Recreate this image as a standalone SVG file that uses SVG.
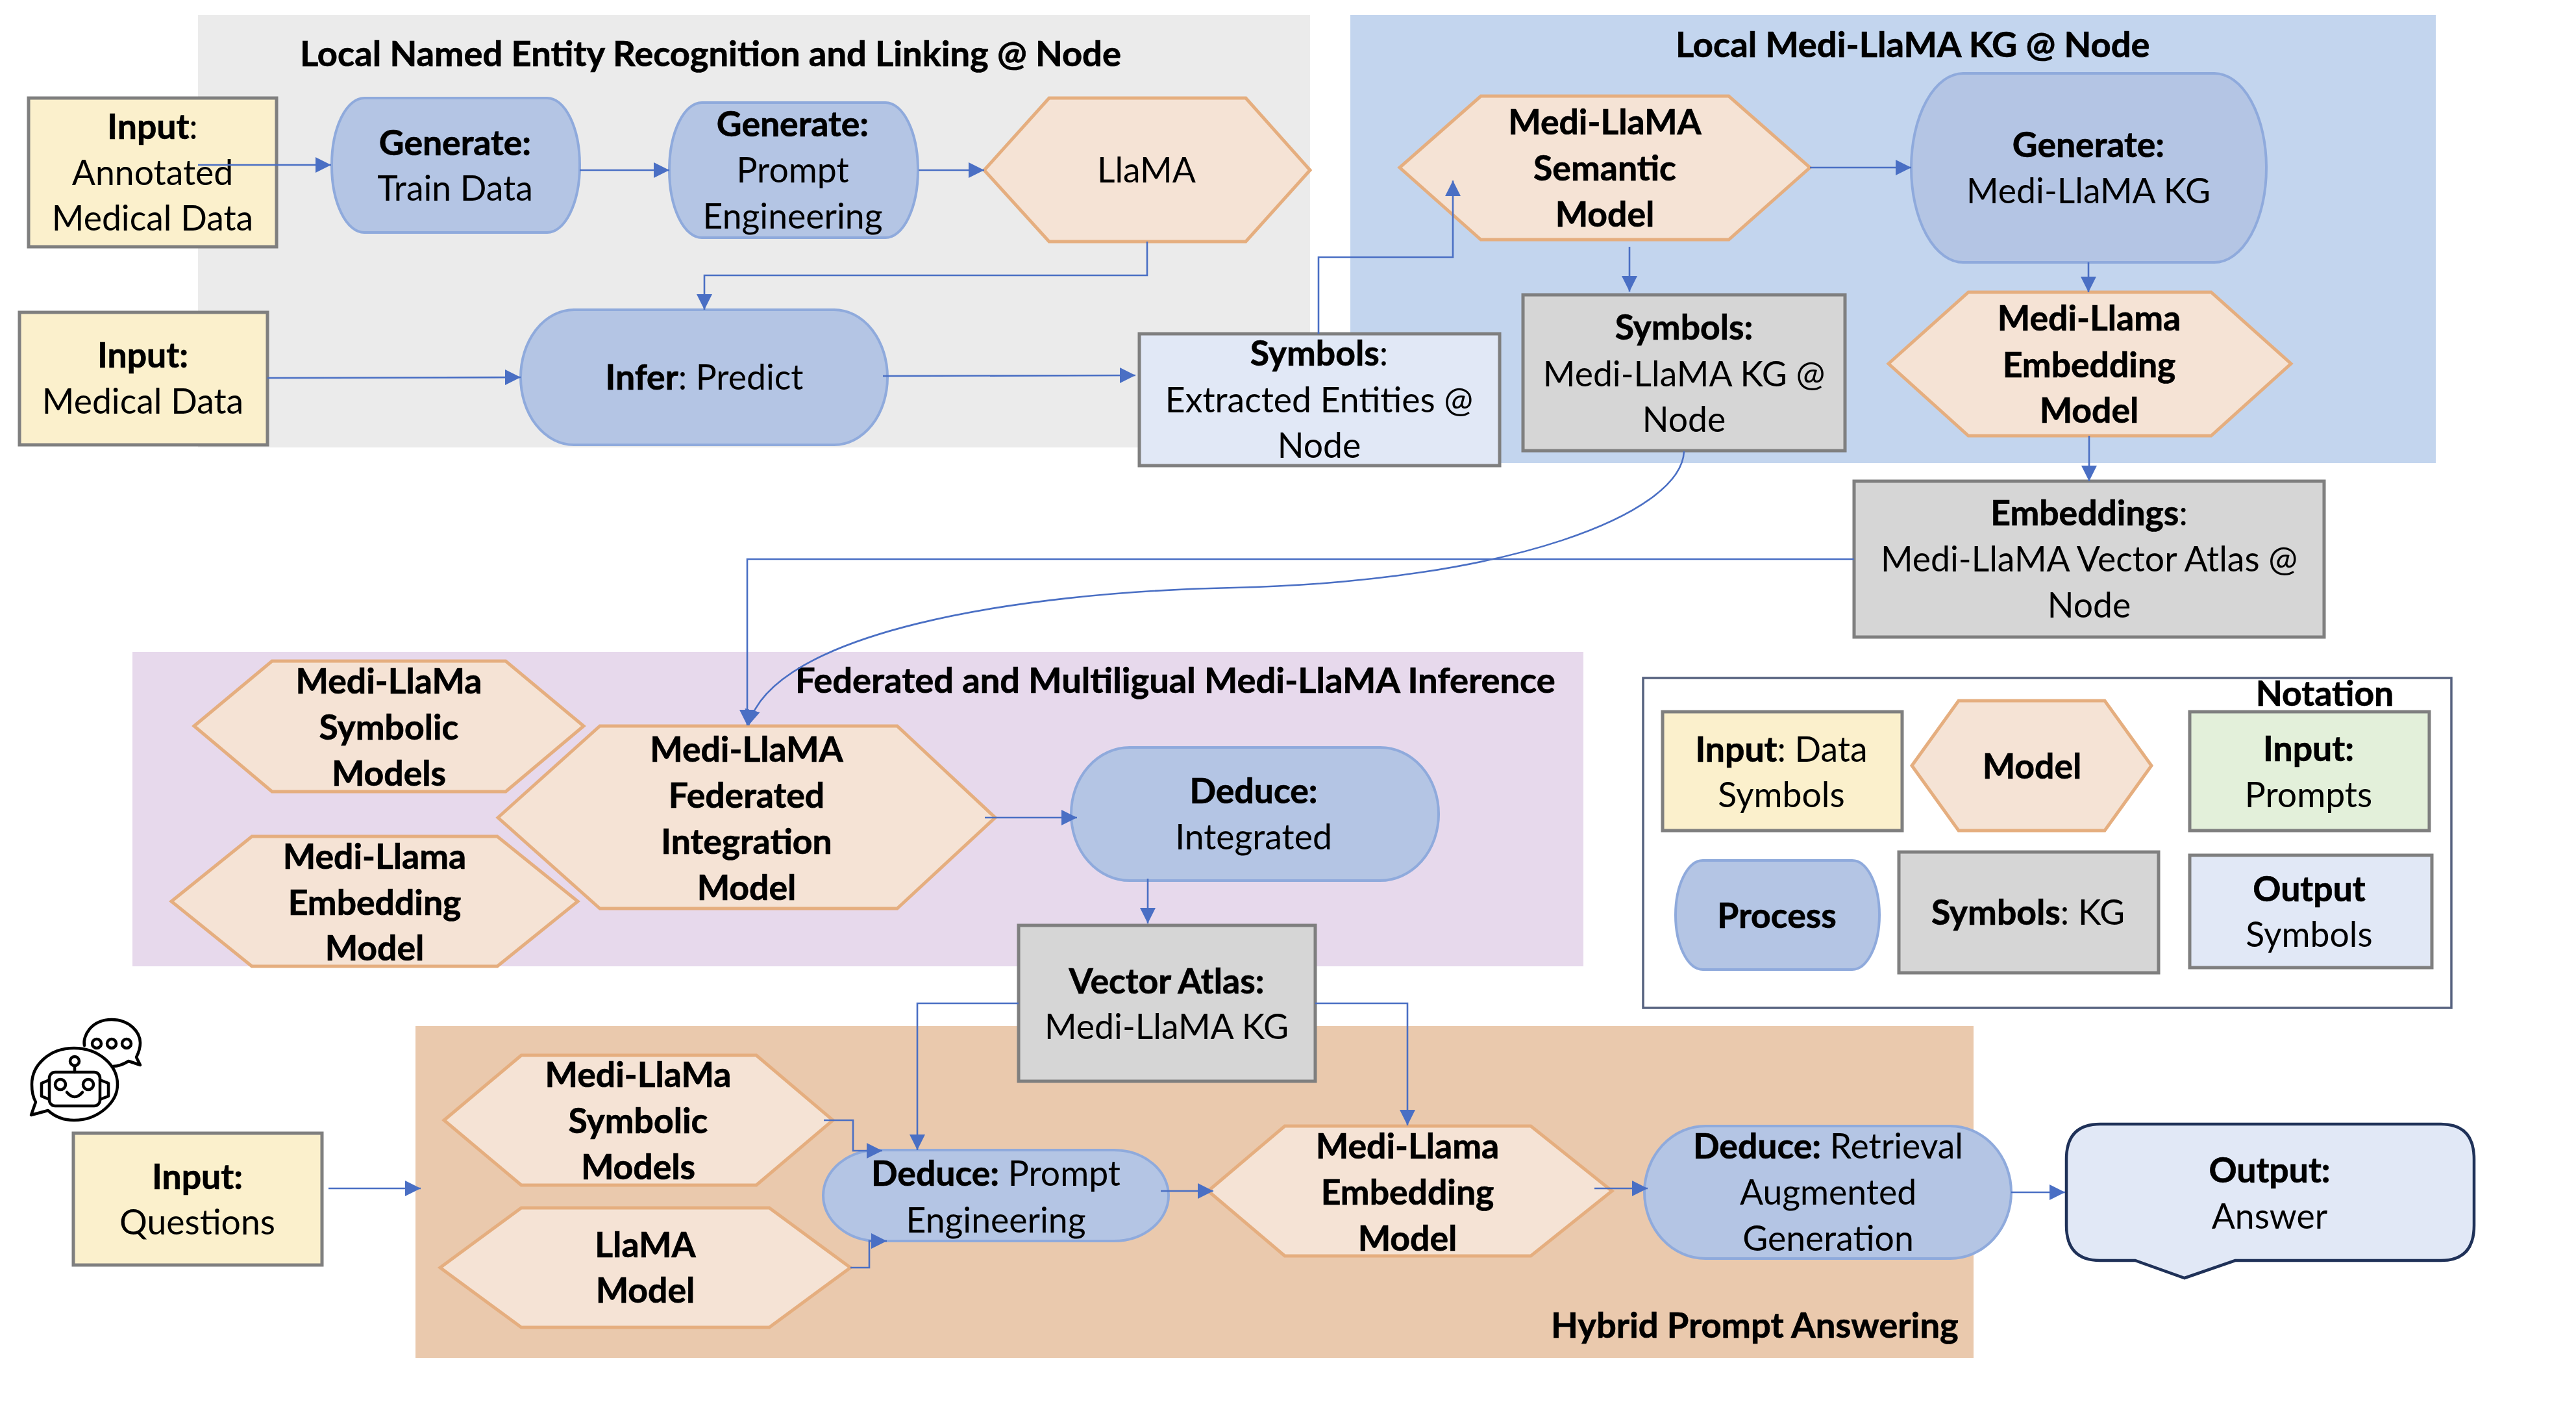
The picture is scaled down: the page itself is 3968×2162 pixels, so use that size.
<svg xmlns="http://www.w3.org/2000/svg" width="3968" height="2162" viewBox="0 0 3968 2162">
<style>
text{font-family:"Lato","Open Sans","Liberation Sans",sans-serif;font-size:53.5px;fill:#000;text-anchor:middle}
.b,tspan.b{font-weight:700;stroke:#000;stroke-width:.7}
.title{font-weight:700;font-size:54.3px;text-anchor:start;stroke:#000;stroke-width:.7}
.inp{fill:#FBF0CC;stroke:#7F7F7F;stroke-width:5}
.kg{fill:#D6D6D6;stroke:#7F7F7F;stroke-width:5}
.out{fill:#E1E8F6;stroke:#7F7F7F;stroke-width:5}
.grn{fill:#E3F0DA;stroke:#7F7F7F;stroke-width:5}
.proc{fill:#B4C5E4;stroke:#8FAADC;stroke-width:4}
.hex{fill:#F5E3D5;stroke:#E5AE7F;stroke-width:5;stroke-linejoin:miter}
.c{fill:none;stroke:#4A6FC4;stroke-width:2.6}
.ic{fill:none;stroke:#000;stroke-width:4.5;stroke-linejoin:round;stroke-linecap:round}
</style>
<defs>
<marker id="a" markerUnits="userSpaceOnUse" markerWidth="26" markerHeight="26" refX="24" refY="12" orient="auto"><path d="M0 0L24 12L0 24Z" fill="#4A6FC4"/></marker>
</defs>
<g id="panels">
<rect x="305" y="23" width="1713" height="666" fill="#EBEBEB"/>
<rect x="2080" y="23" width="1672" height="690" fill="#C3D5EE"/>
<rect x="204" y="1004" width="2235" height="484" fill="#E7D9EC"/>
<rect x="640" y="1580" width="2400" height="511" fill="#EAC9AD"/>
<text class="title" x="462" y="102">Local Named Entity Recognition and Linking @ Node</text>
<text class="title" x="2581" y="88">Local Medi-LlaMA KG @ Node</text>
<text class="title" x="1225" y="1067">Federated and Multiligual Medi-LlaMA Inference</text>
<text class="title" x="2389" y="2060">Hybrid Prompt Answering</text>
</g>
<g id="n-annotated"><rect class="inp" x="44" y="151" width="382" height="229"/><text><tspan x="235" y="214"><tspan class="b">Input</tspan>:</tspan><tspan x="235" y="285">Annotated</tspan><tspan x="235" y="355">Medical Data</tspan></text></g>
<g id="n-train"><rect class="proc" x="511" y="151" width="382" height="207" rx="50" ry="103"/><text><tspan x="701" y="239" class="b">Generate:</tspan><tspan x="701" y="309">Train Data</tspan></text></g>
<g id="n-prompt"><rect class="proc" x="1031" y="158" width="383" height="208" rx="50" ry="104"/><text><tspan x="1221" y="210" class="b">Generate:</tspan><tspan x="1221" y="281">Prompt</tspan><tspan x="1221" y="352">Engineering</tspan></text></g>
<g id="n-llama"><polygon class="hex" points="1516,262 1616,151 1919,151 2018,262 1919,372 1616,372"/><text x="1766" y="281">LlaMA</text></g>
<g id="n-medical"><rect class="inp" x="30" y="481" width="382" height="204"/><text><tspan x="220" y="566" class="b">Input:</tspan><tspan x="220" y="637">Medical Data</tspan></text></g>
<g id="n-infer"><rect class="proc" x="802" y="477" width="565" height="208" rx="82" ry="104"/><text x="1085" y="600"><tspan class="b">Infer</tspan>: Predict</text></g>
<g id="n-extracted"><rect class="out" x="1755" y="514" width="555" height="203"/><text><tspan x="2032" y="563"><tspan class="b">Symbols</tspan>:</tspan><tspan x="2032" y="635">Extracted Entities @</tspan><tspan x="2032" y="705">Node</tspan></text></g>
<g id="n-semantic"><polygon class="hex" points="2156,258 2281,148 2663,148 2788,258 2663,369 2281,369"/><text class="b"><tspan x="2472" y="207">Medi-LlaMA</tspan><tspan x="2472" y="278">Semantic</tspan><tspan x="2472" y="349">Model</tspan></text></g>
<g id="n-kg"><rect class="proc" x="2944" y="113" width="547" height="291" rx="80" ry="145"/><text><tspan x="3217" y="242" class="b">Generate:</tspan><tspan x="3217" y="313">Medi-LlaMA KG</tspan></text></g>
<g id="n-sym"><rect class="kg" x="2346" y="454" width="496" height="240"/><text><tspan x="2594" y="523" class="b">Symbols:</tspan><tspan x="2594" y="595">Medi-LlaMA KG @</tspan><tspan x="2594" y="665">Node</tspan></text></g>
<g id="n-emb"><polygon class="hex" points="2909,560 3032,450 3406,450 3529,560 3406,671 3032,671"/><text class="b"><tspan x="3218" y="509">Medi-Llama</tspan><tspan x="3218" y="581">Embedding</tspan><tspan x="3218" y="651">Model</tspan></text></g>
<g id="n-atlas"><rect class="kg" x="2856" y="741" width="724" height="240"/><text><tspan x="3218" y="809"><tspan class="b">Embeddings</tspan>:</tspan><tspan x="3218" y="880">Medi-LlaMA Vector Atlas @</tspan><tspan x="3218" y="951">Node</tspan></text></g>
<g id="n-symb1"><polygon class="hex" points="299,1118 419,1018 779,1018 899,1118 779,1219 419,1219"/><text class="b"><tspan x="599" y="1068">Medi-LlaMa</tspan><tspan x="599" y="1139">Symbolic</tspan><tspan x="599" y="1210">Models</tspan></text></g>
<g id="n-emb1"><polygon class="hex" points="264,1388 388,1288 766,1288 890,1388 766,1488 388,1488"/><text class="b"><tspan x="577" y="1338">Medi-Llama</tspan><tspan x="577" y="1409">Embedding</tspan><tspan x="577" y="1479">Model</tspan></text></g>
<g id="n-fed"><polygon class="hex" points="767,1259 924,1118 1382,1118 1533,1259 1382,1399 924,1399"/><text class="b"><tspan x="1150" y="1173">Medi-LlaMA</tspan><tspan x="1150" y="1244">Federated</tspan><tspan x="1150" y="1315">Integration</tspan><tspan x="1150" y="1386">Model</tspan></text></g>
<g id="n-ded"><rect class="proc" x="1650" y="1151" width="566" height="205" rx="90" ry="102"/><text><tspan x="1931" y="1237" class="b">Deduce:</tspan><tspan x="1931" y="1308">Integrated</tspan></text></g>
<g id="n-vec"><rect class="kg" x="1569" y="1425" width="457" height="240"/><text><tspan x="1797" y="1530" class="b">Vector Atlas:</tspan><tspan x="1797" y="1600">Medi-LlaMA KG</tspan></text></g>
<g id="n-q"><rect class="inp" x="113" y="1745" width="383" height="203"/><text><tspan x="304" y="1831" class="b">Input:</tspan><tspan x="304" y="1901">Questions</tspan></text></g>
<g id="n-symb2"><polygon class="hex" points="684,1725 803,1625 1165,1625 1283,1725 1165,1825 803,1825"/><text class="b"><tspan x="983" y="1674">Medi-LlaMa</tspan><tspan x="983" y="1745">Symbolic</tspan><tspan x="983" y="1816">Models</tspan></text></g>
<g id="n-llama2"><polygon class="hex" points="678,1952 803,1860 1185,1860 1310,1952 1185,2044 803,2044"/><text class="b"><tspan x="994" y="1936">LlaMA</tspan><tspan x="994" y="2006">Model</tspan></text></g>
<g id="n-ded2"><rect class="proc" x="1268" y="1771" width="532" height="140" rx="84" ry="70"/><text><tspan x="1534" y="1826"><tspan class="b">Deduce:</tspan> Prompt</tspan><tspan x="1534" y="1898">Engineering</tspan></text></g>
<g id="n-emb2"><polygon class="hex" points="1861,1834 1979,1734 2358,1734 2483,1834 2358,1934 1979,1934"/><text class="b"><tspan x="2168" y="1784">Medi-Llama</tspan><tspan x="2168" y="1855">Embedding</tspan><tspan x="2168" y="1926">Model</tspan></text></g>
<g id="n-rag"><rect class="proc" x="2533" y="1734" width="565" height="204" rx="94" ry="102"/><text><tspan x="2816" y="1784"><tspan class="b">Deduce:</tspan> Retrieval</tspan><tspan x="2816" y="1855">Augmented</tspan><tspan x="2816" y="1926">Generation</tspan></text></g>
<g id="n-ans"><path d="M3235 1731H3760Q3811 1731 3811 1785V1887Q3811 1941 3760 1941H3443L3365 1968L3289 1941H3235Q3183 1941 3183 1887V1785Q3183 1731 3235 1731Z" fill="#E1E8F6" stroke="#1F3158" stroke-width="4.5"/><text><tspan x="3496" y="1821" class="b">Output:</tspan><tspan x="3496" y="1892">Answer</tspan></text></g>
<g id="robot">
<path class="ic" d="M114 1614C76 1614 49 1640 49 1670C49 1680 51 1690 55 1697L48 1717L74 1710C85 1720 99 1725 114 1725C152 1725 181 1697 181 1670C181 1640 152 1614 114 1614Z"/>
<path class="ic" d="M130 1610C127 1596 140 1570 172 1570C200 1570 216 1590 216 1606C216 1614 214 1620 210 1628L216 1640L198 1634C190 1639 180 1642 174 1642"/>
<circle class="ic" cx="149" cy="1607" r="7"/><circle class="ic" cx="172" cy="1607" r="7"/><circle class="ic" cx="195" cy="1607" r="7"/>
<circle class="ic" cx="115" cy="1634" r="7"/><path class="ic" d="M115 1641V1651"/>
<rect class="ic" x="76" y="1651" width="78" height="52" rx="9"/>
<path class="ic" d="M76 1663L64 1668V1688L76 1693M154 1663L167 1668V1688L154 1693"/>
<circle class="ic" cx="93" cy="1670" r="8"/><circle class="ic" cx="136" cy="1670" r="8"/>
<path class="ic" d="M103 1682Q115 1696 127 1682"/>
</g>
<g id="notation">
<rect x="2531" y="1044" width="1245" height="508" fill="#fff" stroke="#56627F" stroke-width="3.5"/>
<text class="b" x="3581" y="1087">Notation</text>
</g>
<g id="l-input"><rect class="inp" x="2561" y="1096" width="369" height="183"/><text><tspan x="2744" y="1173"><tspan class="b">Input</tspan>: Data</tspan><tspan x="2744" y="1243">Symbols</tspan></text></g>
<g id="l-model"><polygon class="hex" points="2945,1179 3017,1079 3242,1079 3314,1179 3242,1279 3017,1279"/><text class="b" x="3130" y="1199">Model</text></g>
<g id="l-prompts"><rect class="grn" x="3373" y="1096" width="369" height="183"/><text><tspan x="3556" y="1172" class="b">Input:</tspan><tspan x="3556" y="1243">Prompts</tspan></text></g>
<g id="l-process"><rect class="proc" x="2581" y="1325" width="314" height="168" rx="42" ry="84"/><text class="b" x="2737" y="1429">Process</text></g>
<g id="l-kg"><rect class="kg" x="2925" y="1312" width="400" height="186"/><text x="3124" y="1424"><tspan class="b">Symbols</tspan>: KG</text></g>
<g id="l-out"><rect class="out" x="3373" y="1317" width="373" height="173"/><text><tspan x="3557" y="1388" class="b">Output</tspan><tspan x="3557" y="1458">Symbols</tspan></text></g>
<g id="connectors">
<path class="c" marker-end="url(#a)" d="M305 254H510"/>
<path class="c" marker-end="url(#a)" d="M893 262H1031"/>
<path class="c" marker-end="url(#a)" d="M1415 262H1516"/>
<path class="c" marker-end="url(#a)" d="M1767 372V424H1085V477"/>
<path class="c" marker-end="url(#a)" d="M412 582L802 581"/>
<path class="c" marker-end="url(#a)" d="M1360 579L1749 578"/>
<path class="c" marker-end="url(#a)" d="M2031 514V396H2238V278"/>
<path class="c" marker-end="url(#a)" d="M2788 258H2944"/>
<path class="c" marker-end="url(#a)" d="M2510 380V449"/>
<path class="c" marker-end="url(#a)" d="M3217 404V450"/>
<path class="c" marker-end="url(#a)" d="M3218 671V741"/>
<path class="c" marker-end="url(#a)" d="M2856 861H1151V1117"/>
<path class="c" marker-end="url(#a)" d="M2594 695C2590 790 2330 895 1900 905C1560 912 1190 975 1153 1117"/>
<path class="c" marker-end="url(#a)" d="M1517 1259H1659"/>
<path class="c" marker-end="url(#a)" d="M1768 1353V1422"/>
<path class="c" marker-end="url(#a)" d="M1569 1545H1413V1771"/>
<path class="c" marker-end="url(#a)" d="M2026 1545H2168V1733"/>
<path class="c" marker-end="url(#a)" d="M506 1830H648"/>
<path class="c" marker-end="url(#a)" d="M1269 1725H1314V1772H1359"/>
<path class="c" marker-end="url(#a)" d="M1310 1952H1339V1911H1366"/>
<path class="c" marker-end="url(#a)" d="M1788 1834H1869"/>
<path class="c" marker-end="url(#a)" d="M2456 1830H2538"/>
<path class="c" marker-end="url(#a)" d="M3098 1836H3181"/>
</g>
</svg>
